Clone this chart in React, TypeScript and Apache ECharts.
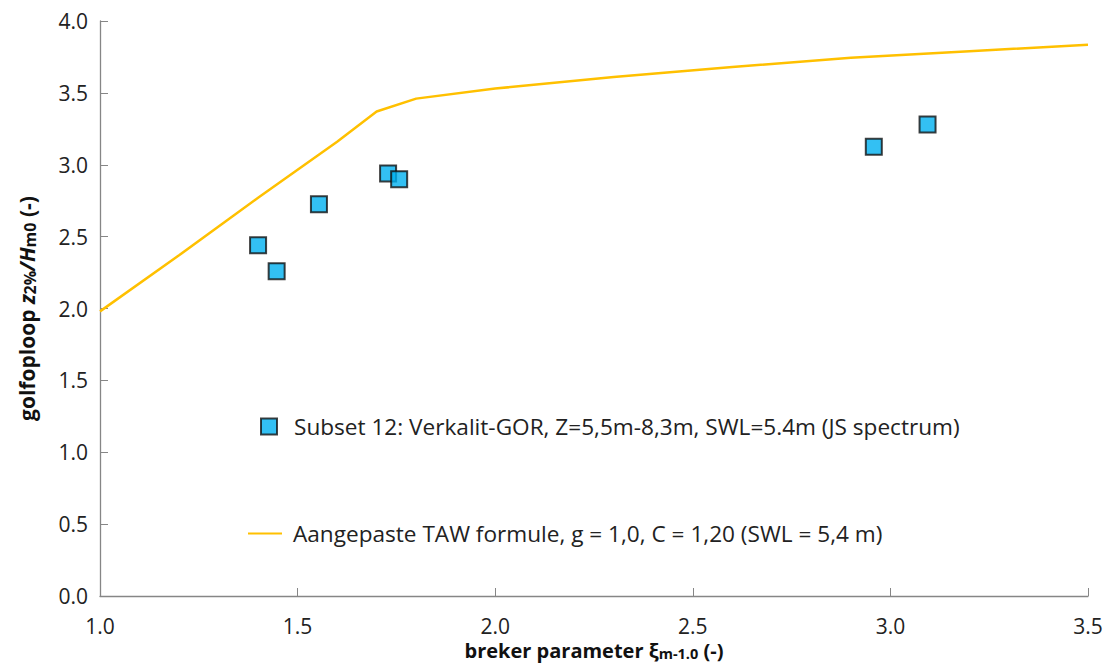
import React, { useEffect, useRef } from "react";
import * as echarts from "echarts";

const scatterName = "Subset 12: Verkalit-GOR, Z=5,5m-8,3m, SWL=5.4m (JS spectrum)";
const lineName = "Aangepaste TAW formule, g = 1,0, C = 1,20 (SWL = 5,4 m)";

const scatterX = [1.4, 1.447, 1.554, 1.729, 1.757, 2.958, 3.094];
const scatterY = [2.44, 2.26, 2.725, 2.94, 2.9, 3.125, 3.28];

const lineX = [1.0, 1.2, 1.4, 1.6, 1.7, 1.8, 2.0, 2.3, 2.6, 2.9, 3.2, 3.5];
const lineY = [1.98, 2.37, 2.77, 3.16, 3.37, 3.46, 3.53, 3.61, 3.68, 3.745, 3.79, 3.835];

const FONT = "'Open Sans', 'Noto Sans', sans-serif";

export default function App() {
  const ref = useRef<HTMLDivElement>(null);
  useEffect(() => {
    if (!ref.current) return;
    const chart = echarts.init(ref.current, undefined, { renderer: "svg" });
    const axisColor = "#868686";
    chart.setOption({
      animation: false,
      backgroundColor: "#ffffff",
      textStyle: { fontFamily: FONT },
      grid: { left: 100, right: 23, top: 21, bottom: 68, outerBoundsMode: "none", containLabel: false },
      legend: [
        {
          data: [{ name: scatterName, icon: "rect" }],
          left: 255,
          top: 410,
          itemWidth: 16,
          itemHeight: 16,
          textStyle: { fontSize: 22.6, color: "#222", fontFamily: FONT, padding: [0, 0, 0, 12] },
        },
        {
          data: [{ name: lineName, icon: "rect" }],
          left: 243,
          top: 517,
          itemWidth: 34,
          itemHeight: 2,
          textStyle: { fontSize: 22.6, color: "#222", fontFamily: FONT, padding: [0, 0, 0, 6] },
        },
      ],
      xAxis: {
        type: "value",
        min: 1.0,
        max: 3.5,
        interval: 0.5,
        splitLine: { show: false },
        axisLine: { show: true, lineStyle: { color: axisColor, width: 1.3 } },
        axisTick: { show: true, inside: true, length: 8, lineStyle: { color: axisColor } },
        axisLabel: {
          formatter: (v: number) => v.toFixed(1),
          fontSize: 21,
          color: "#222",
          margin: 19,
          fontFamily: FONT,
        },
        name: "{b|breker parameter ξ}{s|m-1.0}{b| (-)}",
        nameLocation: "middle",
        nameGap: 29,
        nameTextStyle: {
          lineHeight: 20,
          rich: {
            b: { fontSize: 20, lineHeight: 20, fontWeight: "bold", color: "#111", fontFamily: FONT },
            s: { fontSize: 14.5, lineHeight: 20, fontWeight: "bold", color: "#111", fontFamily: FONT, verticalAlign: "bottom" },
          },
        },
      },
      yAxis: {
        type: "value",
        min: 0,
        max: 4,
        interval: 0.5,
        splitLine: { show: false },
        axisLine: { show: true, lineStyle: { color: axisColor, width: 1.3 } },
        axisTick: { show: true, inside: true, length: 8, lineStyle: { color: axisColor } },
        axisLabel: {
          formatter: (v: number) => v.toFixed(1),
          fontSize: 21,
          color: "#222",
          margin: 12,
          fontFamily: FONT,
        },
        name: "{b|golfoploop }{i|z}{s|2%}{i|/H}{s|m0}{b| (-)}",
        nameLocation: "middle",
        nameGap: 62,
        nameTextStyle: {
          rich: {
            b: { fontSize: 21, fontWeight: "bold", color: "#111", fontFamily: FONT },
            i: { fontSize: 21, fontWeight: "bold", fontStyle: "italic", color: "#111", fontFamily: FONT },
            s: { fontSize: 16, fontWeight: "bold", color: "#111", fontFamily: FONT, padding: [7, 0, 0, 0] },
          },
        },
      },
      series: [
        {
          name: lineName,
          type: "line",
          data: lineX.map((x, i) => [x, lineY[i]]),
          showSymbol: false,
          symbol: "none",
          lineStyle: { color: "#FFC000", width: 2.5 },
          itemStyle: { color: "#FFC000" },
          z: 2,
        },
        {
          name: scatterName,
          type: "scatter",
          data: scatterX.map((x, i) => [x, scatterY[i]]),
          symbol: "rect",
          symbolSize: 16,
          itemStyle: { color: "#00B0F0", borderColor: "#111", borderWidth: 2 },
          z: 3,
        },
      ],
    });
    return () => chart.dispose();
  }, []);
  return (
    <div
      ref={ref}
      style={{ width: 1111, height: 664, position: "fixed", left: 0, top: 0 }}
    />
  );
}
